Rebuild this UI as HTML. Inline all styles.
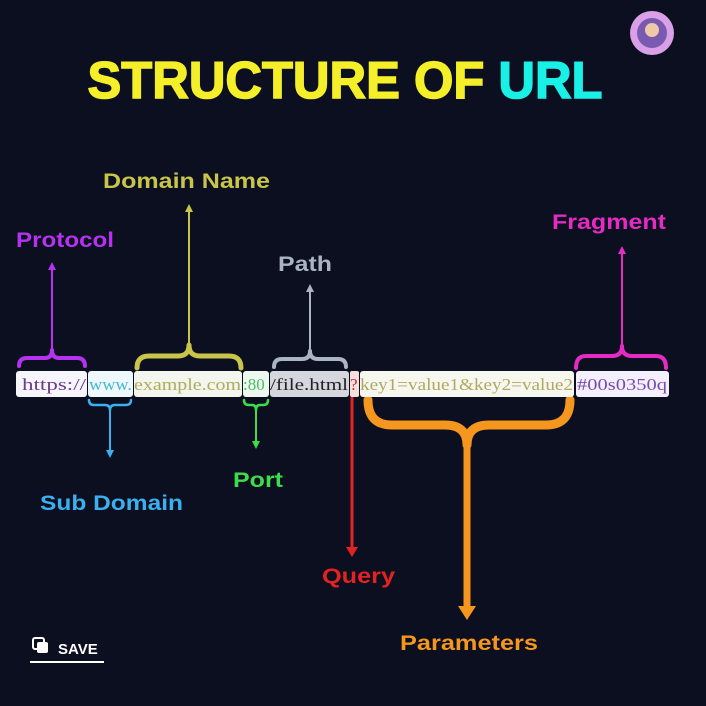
<!DOCTYPE html>
<html><head><meta charset="utf-8"><style>
html,body{margin:0;padding:0;background:#0b0f1f;}
svg{display:block}
.l{font-family:"Liberation Sans",sans-serif;font-weight:bold;font-size:21px}
.u{font-family:"Liberation Serif",serif;font-size:17px}
</style></head><body>
<svg width="706" height="706" viewBox="0 0 706 706" xmlns="http://www.w3.org/2000/svg">
<rect width="706" height="706" fill="#0b0f1f"/>
<circle cx="652" cy="33" r="22" fill="#d9a0e8"/>
<circle cx="652" cy="33" r="15" fill="#7a5ab0"/>
<circle cx="652" cy="30" r="7" fill="#f0c8a8"/>
<text x="345" y="98" text-anchor="middle" font-family="Liberation Sans,sans-serif" font-weight="bold" font-size="52" fill="#f5ef2a" stroke="#f5ef2a" stroke-width="1.5" textLength="515" lengthAdjust="spacingAndGlyphs">STRUCTURE OF <tspan fill="#19f0e6" stroke="#19f0e6">URL</tspan></text>

<g fill="none" stroke-linecap="round" stroke-linejoin="round">
<path d="M19 366 Q19 358 27 358 L45 358 Q52 358 52 350 Q52 358 59 358 L77 358 Q85 358 85 366" stroke="#b533f0" stroke-width="4"/>
<line x1="52" y1="350" x2="52" y2="266" stroke="#b533f0" stroke-width="2"/>
<path d="M137 368 Q137 356 149 356 L178 356 Q189 356 189 345 Q189 356 200 356 L229 356 Q241 356 241 368" stroke="#c9c54a" stroke-width="5"/>
<line x1="189" y1="345" x2="189" y2="208" stroke="#c9c54a" stroke-width="2"/>
<path d="M274 367 Q274 359 282 359 L302 359 Q310 359 310 351 Q310 359 318 359 L338 359 Q346 359 346 367" stroke="#aab4c3" stroke-width="4"/>
<line x1="310" y1="351" x2="310" y2="288" stroke="#aab4c3" stroke-width="2"/>
<path d="M576 368 Q576 356 586 356 L612 356 Q622 356 622 346 Q622 356 632 356 L656 356 Q666 356 666 368" stroke="#e62bc4" stroke-width="4"/>
<line x1="622" y1="346" x2="622" y2="250" stroke="#e62bc4" stroke-width="2"/>
<path d="M89 400 Q89 405 94 405 L105 405 Q110 405 110 410 Q110 405 115 405 L126 405 Q131 405 131 400" stroke="#3ab0f0" stroke-width="2.5"/>
<line x1="110" y1="410" x2="110" y2="454" stroke="#3ab0f0" stroke-width="2"/>
<path d="M244 400 Q244 405 249 405 L252 405 Q256 405 256 410 Q256 405 260 405 L263 405 Q268 405 268 400" stroke="#3ddc4a" stroke-width="2.5"/>
<line x1="256" y1="410" x2="256" y2="445" stroke="#3ddc4a" stroke-width="2"/>
<line x1="352" y1="398" x2="352" y2="552" stroke="#e52222" stroke-width="3"/>
<path d="M368 400 Q368 425 392 425 L445 425 Q467 425 467 445 Q467 425 489 425 L546 425 Q570 425 570 400" stroke="#f5961e" stroke-width="9"/>
<line x1="467" y1="440" x2="467" y2="610" stroke="#f5961e" stroke-width="7"/>
</g>
<g>
<polygon points="52,262 48,270 56,270" fill="#b533f0"/>
<polygon points="189,204 185,212 193,212" fill="#c9c54a"/>
<polygon points="310,284 306,292 314,292" fill="#aab4c3"/>
<polygon points="622,246 618,254 626,254" fill="#e62bc4"/>
<polygon points="110,458 106,450 114,450" fill="#3ab0f0"/>
<polygon points="256,449 252,441 260,441" fill="#3ddc4a"/>
<polygon points="352,557 346,547 358,547" fill="#e52222"/>
<polygon points="467,620 458,606 476,606" fill="#f5961e"/>
</g>

<g>
<rect x="16" y="371" width="71" height="26" rx="3" fill="#f6f5fb"/>
<rect x="88" y="371" width="45" height="26" rx="3" fill="#eef8fb"/>
<rect x="134" y="371" width="108" height="26" rx="3" fill="#f3f6ee"/>
<rect x="243" y="371" width="26" height="26" rx="3" fill="#eef8f0"/>
<rect x="270" y="371" width="79" height="26" rx="3" fill="#d4d7de"/>
<rect x="350" y="371" width="9" height="26" rx="2" fill="#f6dede"/>
<rect x="360" y="371" width="214" height="26" rx="3" fill="#f6f8f0"/>
<rect x="576" y="371" width="93" height="26" rx="3" fill="#f4f0fb"/>
</g>
<g class="u">
<text x="22" y="390" fill="#6a3d8c" textLength="64" lengthAdjust="spacingAndGlyphs">https://</text>
<text x="89" y="390" fill="#4ab8d0" textLength="43" lengthAdjust="spacingAndGlyphs">www.</text>
<text x="134" y="390" fill="#b0ac5a" textLength="107" lengthAdjust="spacingAndGlyphs">example.com</text>
<text x="243" y="390" fill="#48c060">:80</text>
<text x="270" y="390" fill="#222" textLength="78" lengthAdjust="spacingAndGlyphs">/file.html</text>
<text x="350" y="390" fill="#c03030">?</text>
<text x="360" y="390" fill="#b0a860" textLength="213" lengthAdjust="spacingAndGlyphs">key1=value1&amp;key2=value2</text>
<text x="577" y="390" fill="#7a4ab0" textLength="90" lengthAdjust="spacingAndGlyphs">#00s0350q</text>
</g>
<g class="l">
<text x="16" y="247" fill="#b533f0" textLength="98" lengthAdjust="spacingAndGlyphs">Protocol</text>
<text x="103" y="188" fill="#c9c54a" textLength="167" lengthAdjust="spacingAndGlyphs">Domain Name</text>
<text x="278" y="271" fill="#aab4c3" textLength="54" lengthAdjust="spacingAndGlyphs">Path</text>
<text x="552" y="229" fill="#e62bc4" textLength="114" lengthAdjust="spacingAndGlyphs">Fragment</text>
<text x="40" y="510" fill="#3ab0f0" textLength="143" lengthAdjust="spacingAndGlyphs">Sub Domain</text>
<text x="233" y="487" fill="#3ddc4a" textLength="50" lengthAdjust="spacingAndGlyphs">Port</text>
<text x="322" y="583" fill="#e52222" textLength="73" lengthAdjust="spacingAndGlyphs">Query</text>
<text x="400" y="650" fill="#f5961e" textLength="138" lengthAdjust="spacingAndGlyphs">Parameters</text>
</g>
<rect x="33" y="638" width="11" height="11" rx="2" fill="none" stroke="#fff" stroke-width="2"/>
<rect x="37" y="642" width="11" height="11" rx="2" fill="#fff"/>
<text x="58" y="654" font-family="Liberation Sans,sans-serif" font-weight="bold" font-size="15" fill="#fff">SAVE</text>
<line x1="30" y1="662" x2="104" y2="662" stroke="#fff" stroke-width="2"/>
</svg>
</body></html>
